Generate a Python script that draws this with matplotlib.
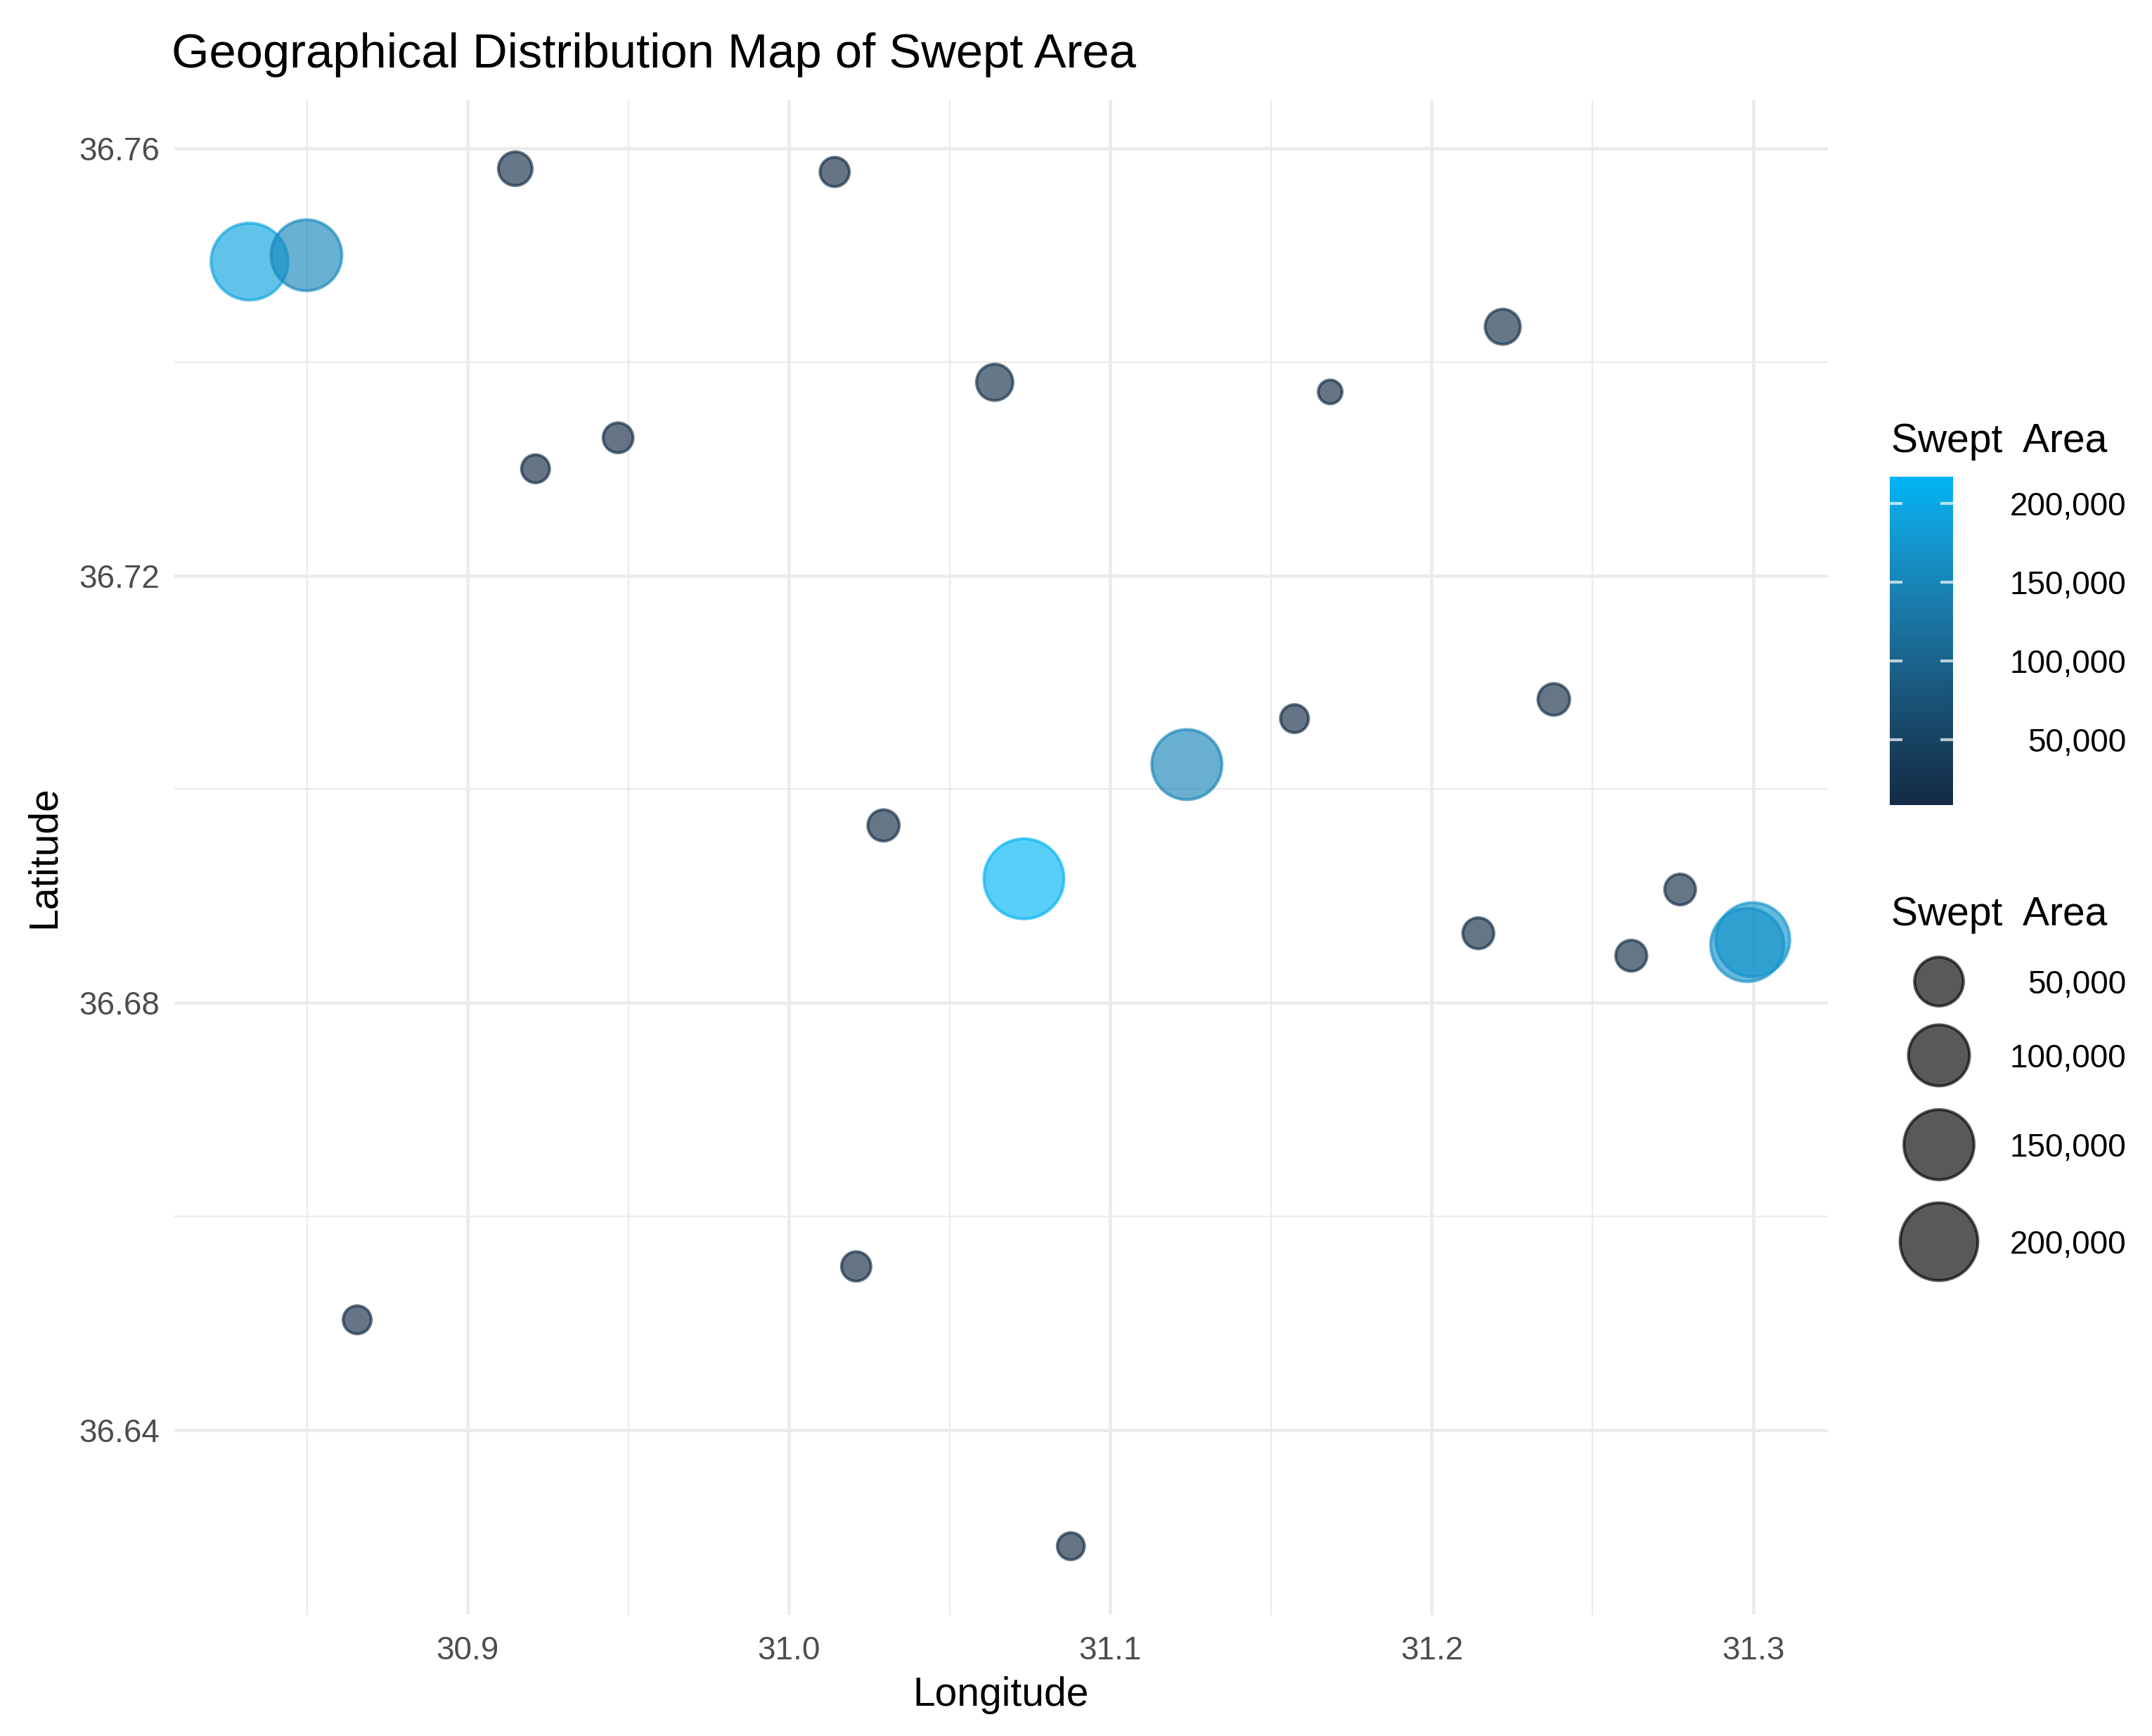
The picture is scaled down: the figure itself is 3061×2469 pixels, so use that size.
import numpy as np
import matplotlib
matplotlib.use("Agg")
import matplotlib.pyplot as plt
from matplotlib.colors import ListedColormap, Normalize, to_rgb
from matplotlib.cm import ScalarMappable

plt.rcParams['font.family'] = ['Liberation Sans', 'DejaVu Sans']

# data
longitude = [30.8321, 30.8498, 30.9148, 31.0142, 31.2221, 31.0640, 31.1684,
             30.9468, 30.9211, 31.2380, 31.1573, 31.1238, 31.0294, 31.0731,
             31.2773, 31.2145, 31.2621, 31.2999, 31.2982, 31.0209, 30.8656,
             31.0877]
latitude = [36.7494, 36.7500, 36.7581, 36.7578, 36.7433, 36.7381, 36.7372,
            36.7329, 36.7300, 36.7084, 36.7066, 36.7023, 36.6966, 36.6916,
            36.6906, 36.6865, 36.6844, 36.6859, 36.6854, 36.6553, 36.6503,
            36.6291]
swept_area = [195000, 155000, 15000, 10500, 17000, 19000, 8500,
              11000, 9700, 12700, 9700, 150000, 12300, 217000,
              11800, 12000, 12000, 175000, 170000, 10600, 9700,
              9200]

x_ticks = [30.9, 31.0, 31.1, 31.2, 31.3]
x_minor = [30.85, 30.95, 31.05, 31.15, 31.25]
y_ticks = [36.64, 36.68, 36.72, 36.76]
y_minor = [36.66, 36.70, 36.74]
legend_breaks = [50000, 100000, 150000, 200000]

W, H = 3061, 2469
DPI = 300
PX = 72 / DPI
ALPHA = 0.65
EDGE = 1.0

# --- gradient interpolated in Lab space, like ggplot's scale_colour_gradient
M = np.array([[0.4124, 0.3576, 0.1805],
              [0.2126, 0.7152, 0.0722],
              [0.0193, 0.1192, 0.9505]])
WHITE = M @ np.ones(3)
D = 6 / 29


def rgb_to_lab(rgb):
    c = np.asarray(rgb, dtype=float)
    lin = np.where(c <= 0.04045, c / 12.92, ((c + 0.055) / 1.055) ** 2.4)
    xyz = (M @ lin) / WHITE
    f = np.where(xyz > D ** 3, np.cbrt(xyz), xyz / (3 * D * D) + 4 / 29)
    return np.array([116 * f[1] - 16, 500 * (f[0] - f[1]), 200 * (f[1] - f[2])])


def lab_to_rgb(lab):
    L, a, b = lab
    fy = (L + 16) / 116
    f = np.array([fy + a / 500, fy, fy - b / 200])
    xyz = np.where(f > D, f ** 3, 3 * D * D * (f - 4 / 29)) * WHITE
    lin = np.linalg.solve(M, xyz)
    lin = np.clip(lin, 0, 1)
    c = np.where(lin <= 0.0031308, 12.92 * lin, 1.055 * lin ** (1 / 2.4) - 0.055)
    return np.clip(c, 0, 1)


lab_lo = rgb_to_lab(to_rgb("#132B43"))
lab_hi = rgb_to_lab(to_rgb("#00B4F5"))
cmap = ListedColormap([lab_to_rgb(lab_lo + t * (lab_hi - lab_lo))
                       for t in np.linspace(0, 1, 256)])

vmin, vmax = min(swept_area), max(swept_area)
norm = Normalize(vmin=vmin, vmax=vmax)


def marker_size(v):
    t = np.clip((np.asarray(v, dtype=float) - vmin) / (vmax - vmin), 0, None)
    d = (38 + 80 * np.sqrt(t)) * PX - EDGE
    return d ** 2


def expand(vals, frac=0.05):
    lo, hi = min(vals), max(vals)
    pad = (hi - lo) * frac
    return lo - pad, hi + pad


fig = plt.figure(figsize=(W / DPI, H / DPI), dpi=DPI)
ax = fig.add_axes([248 / W, 1 - 2297 / H, (2600 - 248) / W, (2297 - 142) / H])

ax.scatter(longitude, latitude, s=marker_size(swept_area), c=swept_area,
           cmap=cmap, norm=norm, alpha=ALPHA, edgecolors='face',
           linewidths=EDGE, zorder=3)

ax.set_xlim(*expand(longitude))
ax.set_ylim(*expand(latitude))
ax.set_xticks(x_ticks)
ax.set_xticklabels([f"{v:.1f}" for v in x_ticks])
ax.set_xticks(x_minor, minor=True)
ax.set_yticks(y_ticks)
ax.set_yticklabels([f"{v:.2f}" for v in y_ticks])
ax.set_yticks(y_minor, minor=True)
ax.grid(which='major', color='#EBEBEB', linewidth=1.1)
ax.grid(which='minor', color='#EBEBEB', linewidth=0.55)
ax.set_axisbelow(True)
for s in ax.spines.values():
    s.set_visible(False)
ax.tick_params(which='both', length=0)
ax.tick_params(axis='both', labelsize=11, labelcolor='#4D4D4D')
ax.tick_params(axis='x', pad=7)
ax.tick_params(axis='y', pad=5)

# colour bar
cax = fig.add_axes([2688 / W, 1 - 1145 / H, 90 / W, 467 / H])
cb = fig.colorbar(ScalarMappable(norm=norm, cmap=cmap), cax=cax, ticks=legend_breaks)
cb.outline.set_visible(False)
cb.set_ticklabels([f"{b:,}" for b in legend_breaks])
cax.tick_params(length=0, labelsize=11, labelcolor='black', pad=(3024 - 2778) * PX)
for lab in cax.get_yticklabels():
    lab.set_ha('right')
tr = cax.get_yaxis_transform()
cax.hlines(legend_breaks, 0, 0.2, transform=tr, colors='white', linewidth=1.0, alpha=0.7)
cax.hlines(legend_breaks, 0.8, 1.0, transform=tr, colors='white', linewidth=1.0, alpha=0.7)

# overlay in pixel coordinates for titles and size legend
lay = fig.add_axes([0, 0, 1, 1])
lay.set_xlim(0, W)
lay.set_ylim(H, 0)
lay.axis('off')

lay.text(244, 96, "Geographical Distribution Map of Swept Area", fontsize=16.5,
         ha='left', va='baseline')
lay.text(1424, 2426, "Longitude", fontsize=13.7, ha='center', va='baseline')
lay.text(78, 1219, "Latitude", fontsize=13.7, rotation=90, rotation_mode='anchor',
         ha='center', va='baseline')
lay.text(2690, 643, "Swept  Area", fontsize=13.7, ha='left', va='baseline')
lay.text(2690, 1316, "Swept  Area", fontsize=13.7, ha='left', va='baseline')

key_y = [1396, 1501, 1628, 1766]
lay.scatter([2758] * len(legend_breaks), key_y, s=marker_size(legend_breaks),
            color='black', alpha=ALPHA, edgecolors='face', linewidths=EDGE)
for b, yk in zip(legend_breaks, key_y):
    lay.text(3024, yk, f"{b:,}", fontsize=11, ha='right', va='center_baseline')

fig.savefig("out.png", dpi=DPI)
